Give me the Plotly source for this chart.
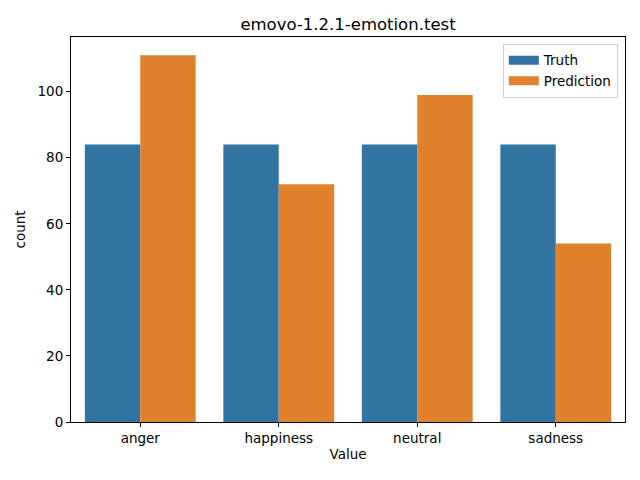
import plotly.graph_objects as go

categories = ["anger", "happiness", "neutral", "sadness"]
truth = [84, 84, 84, 84]
prediction = [111, 72, 99, 54]
yticks = [0, 20, 40, 60, 80, 100]

blue = "#3274a1"
orange = "#e1812c"
font = dict(family="DejaVu Sans", size=13.5, color="black")

fig = go.Figure()
fig.add_trace(go.Bar(x=categories, y=truth, name="Truth", showlegend=False,
                     marker=dict(color=blue, line=dict(width=0))))
fig.add_trace(go.Bar(x=categories, y=prediction, name="Prediction", showlegend=False,
                     marker=dict(color=orange, line=dict(width=0))))
# legend proxies (wide patches like matplotlib)
fig.add_trace(go.Scatter(x=[None], y=[None], mode="lines", name="Truth",
                         line=dict(color=blue, width=9)))
fig.add_trace(go.Scatter(x=[None], y=[None], mode="lines", name="Prediction",
                         line=dict(color=orange, width=9)))

# page body has an 8px margin; compensate in figure margins
fig.update_layout(
    width=640, height=480,
    barmode="group", bargap=0.2, bargroupgap=0,
    plot_bgcolor="white", paper_bgcolor="white",
    margin=dict(l=63, r=23, t=29, b=66, autoexpand=False),
    font=font,
    title=dict(text="emovo-1.2.1-emotion.test", x=(348 - 8) / 640, xanchor="center",
               y=1 - 16 / 480, yanchor="middle",
               font=dict(family="DejaVu Sans", size=16.5, color="black")),
    legend=dict(x=0.987, xanchor="right", y=0.982, yanchor="top", bordercolor="#d0d0d0", borderwidth=1,
                bgcolor="rgba(255,255,255,0.8)", font=font, tracegroupgap=0),
    xaxis=dict(title=dict(text="Value", standoff=4, font=font), showline=True, linecolor="black",
               linewidth=1, mirror=True, automargin=False,
               ticks="outside", ticklen=4, tickcolor="black", showgrid=False, range=[-0.5, 3.5]),
    yaxis=dict(title=dict(text="count", standoff=8, font=font), showline=True, linecolor="black",
               linewidth=1, mirror=True, automargin=False,
               ticks="outside", ticklen=4, tickcolor="black", showgrid=False, zeroline=False,
               range=[0, 116.55], tickvals=yticks),
)

fig.write_html("out.html")
